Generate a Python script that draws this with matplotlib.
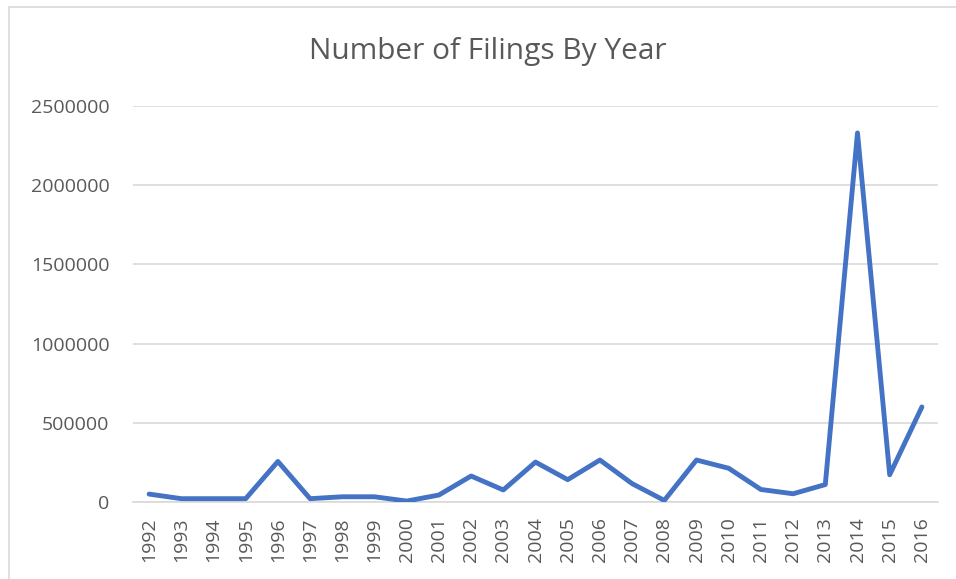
import matplotlib
matplotlib.use('Agg')
import matplotlib.pyplot as plt
from matplotlib.patches import Rectangle

years = [str(y) for y in range(1992, 2017)]
filings = [50000, 21000, 21000, 21000, 256000, 21000, 33000, 33000, 6000, 44000,
           164000, 76000, 252000, 141000, 265000, 116000, 10000, 265000, 213000, 79000,
           52000, 110000, 2330000, 172000, 600000]
yticks = [0, 500000, 1000000, 1500000, 2000000, 2500000]

plt.rcParams['font.family'] = ['Open Sans', 'DejaVu Sans']

fig = plt.figure(figsize=(9.56, 5.79), dpi=100)
# chart area border (Excel-like), only top and left visible in the crop
fig.patches.append(Rectangle((9 / 956, -0.02), 1.1, 1 - 7 / 579 + 0.02,
                             transform=fig.transFigure, fill=False,
                             edgecolor='#d9d9d9', linewidth=1.2))

ax = fig.add_axes([133 / 956, 1 - 502 / 579, 805 / 956, 396 / 579])
ax.plot(range(len(years)), filings, color='#4472c4', linewidth=3.5,
        solid_joinstyle='round', solid_capstyle='round', zorder=3)

ax.set_xlim(-0.5, len(years) - 0.5)
ax.set_ylim(0, 2500000)
ax.set_yticks(yticks)
ax.set_yticklabels([str(v) for v in yticks])
ax.set_xticks(range(len(years)))
ax.set_xticklabels(years, rotation=90)
ax.tick_params(axis='both', length=0, labelsize=14, labelcolor='#595959')
ax.tick_params(axis='y', pad=17)
ax.tick_params(axis='x', pad=11)

ax.grid(axis='y', color='#d9d9d9', linewidth=1.2)
ax.set_axisbelow(True)
for s in ['top', 'right', 'left']:
    ax.spines[s].set_visible(False)
ax.spines['bottom'].set_color('#d9d9d9')
ax.spines['bottom'].set_linewidth(1.2)

fig.text(488 / 956, 1 - 51 / 579, 'Number of Filings By Year', ha='center', va='center',
         fontsize=21.5, color='#595959')

fig.savefig('out.png', dpi=100)
